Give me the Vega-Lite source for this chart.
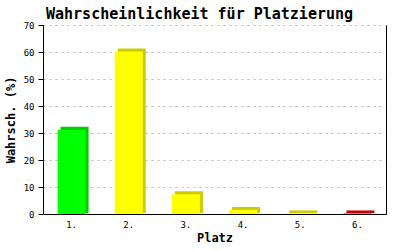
{
  "$schema": "https://vega.github.io/schema/vega-lite/v6.json",
  "autosize": {"type": "none"},
  "padding": {"left": 43, "top": 25, "right": 14, "bottom": 36},
  "width": 343,
  "height": 189,
  "background": "#FFFFFF",
  "title": {
    "text": "Wahrscheinlichkeit für Platzierung",
    "font": "DejaVu Sans Mono",
    "fontSize": 15,
    "fontWeight": "bold",
    "color": "#000000",
    "anchor": "middle",
    "dx": -15,
    "offset": -1
  },
  "data": {
    "values": [
      {"platz": "1.", "wert": 31.2, "gruppe": "gruen"},
      {"platz": "2.", "wert": 60.2, "gruppe": "gelb"},
      {"platz": "3.", "wert": 7.3, "gruppe": "gelb"},
      {"platz": "4.", "wert": 1.5, "gruppe": "gelb"},
      {"platz": "5.", "wert": 0.2, "gruppe": "gelb"},
      {"platz": "6.", "wert": 0.2, "gruppe": "rot"}
    ]
  },
  "config": {
    "view": {"stroke": null},
    "axis": {
      "labelFont": "DejaVu Sans Mono",
      "labelFontSize": 9,
      "labelColor": "#000000",
      "titleFont": "DejaVu Sans Mono",
      "titleFontSize": 12,
      "titleFontWeight": "bold",
      "titleColor": "#000000",
      "domainColor": "#000000",
      "tickColor": "#000000"
    }
  },
  "encoding": {
    "x": {
      "field": "platz",
      "type": "nominal",
      "sort": null,
      "scale": {"paddingInner": 0.5, "paddingOuter": 0.25},
      "axis": {
        "title": "Platz",
        "labelAngle": 0,
        "ticks": false,
        "labelPadding": 6,
        "titlePadding": 3
      }
    }
  },
  "layer": [
    {
      "mark": {"type": "bar", "width": 28, "xOffset": 3, "yOffset": -3, "y2Offset": -1},
      "encoding": {
        "y": {
          "field": "wert",
          "type": "quantitative",
          "scale": {"domain": [0, 70], "nice": false},
          "axis": {
            "title": "Wahrsch. (%)",
            "orient": "left",
            "values": [0, 10, 20, 30, 40, 50, 60, 70],
            "tickSize": 5,
            "labelPadding": 4,
            "titlePadding": 6,
            "grid": true,
            "gridColor": "#BBBBBB",
            "gridDash": [2, 4]
          }
        },
        "y2": {"datum": 0},
        "color": {
          "field": "gruppe",
          "type": "nominal",
          "scale": {"domain": ["gruen", "gelb", "rot"], "range": ["#00CC00", "#CCCC00", "#CC0000"]},
          "legend": null
        }
      }
    },
    {
      "mark": {"type": "bar", "width": 28},
      "encoding": {
        "y": {
          "field": "wert",
          "type": "quantitative",
          "scale": {"domain": [0, 70], "nice": false},
          "axis": {
            "orient": "right",
            "title": null,
            "labels": false,
            "ticks": false,
            "grid": false
          }
        },
        "color": {
          "field": "gruppe",
          "type": "nominal",
          "scale": {"domain": ["gruen", "gelb", "rot"], "range": ["#00FF00", "#FFFF00", "#FF0000"]},
          "legend": null
        }
      }
    }
  ],
  "resolve": {"axis": {"y": "independent"}, "scale": {"color": "independent"}}
}
